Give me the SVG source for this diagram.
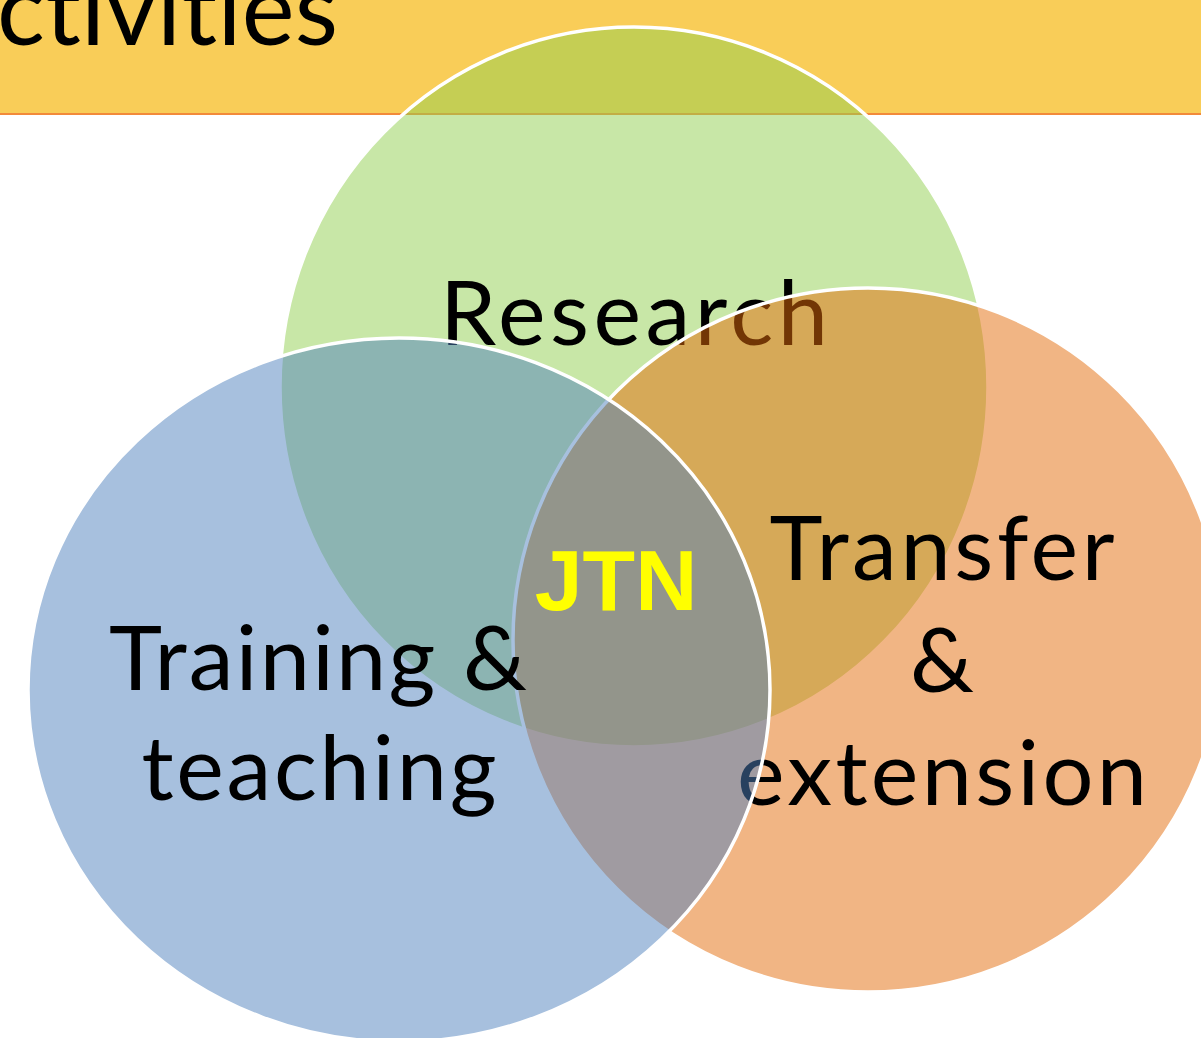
<svg xmlns="http://www.w3.org/2000/svg" width="1201" height="1038" viewBox="0 0 1201 1038">
  <style>
    .lbl { font-family: Lato, "Liberation Sans", sans-serif; font-size: 90px; fill: #000000; text-anchor: middle; font-variant-ligatures: none; }
    .circ { fill-opacity: 0.5; stroke: #FFFFFF; stroke-width: 3.5; }
    .jtn { font-family: "Liberation Sans", Arial, sans-serif; font-weight: bold; font-size: 86px; fill: #FFFF00; text-anchor: middle; }
  </style>
  <rect x="0" y="0" width="1201" height="1038" fill="#FFFFFF"/>
  <g id="banner">
    <rect x="0" y="0" width="1201" height="114" fill="#F9CD58"/>
    <line x1="0" y1="114" x2="1201" y2="114" stroke="#F28A3A" stroke-width="2"/>
    <text class="lbl" x="-3" y="45" style="text-anchor:start; font-size:100px" textLength="341">ctivities</text>
  </g>
  <g id="research">
    <ellipse class="circ" cx="634" cy="387" rx="354" ry="360" fill="#92D050"/>
    <text class="lbl" x="634" y="345" textLength="388">Research</text>
  </g>
  <g id="transfer">
    <ellipse class="circ" cx="868" cy="640" rx="355" ry="352" fill="#E46C0A"/>
    <text class="lbl" x="942" y="580" textLength="345">Transfer</text>
    <text class="lbl" x="942" y="692">&amp;</text>
    <text class="lbl" x="942" y="805" textLength="410">extension</text>
  </g>
  <g id="training">
    <ellipse class="circ" cx="399" cy="690" rx="371" ry="352" fill="#4F81BD"/>
    <text class="lbl" x="318" y="690" textLength="418">Training &amp;</text>
    <text class="lbl" x="319" y="800" textLength="355">teaching</text>
  </g>
  <g id="jtn">
    <text class="jtn" x="616" y="610">JTN</text>
  </g>
  <g id="connectors"/>
</svg>
